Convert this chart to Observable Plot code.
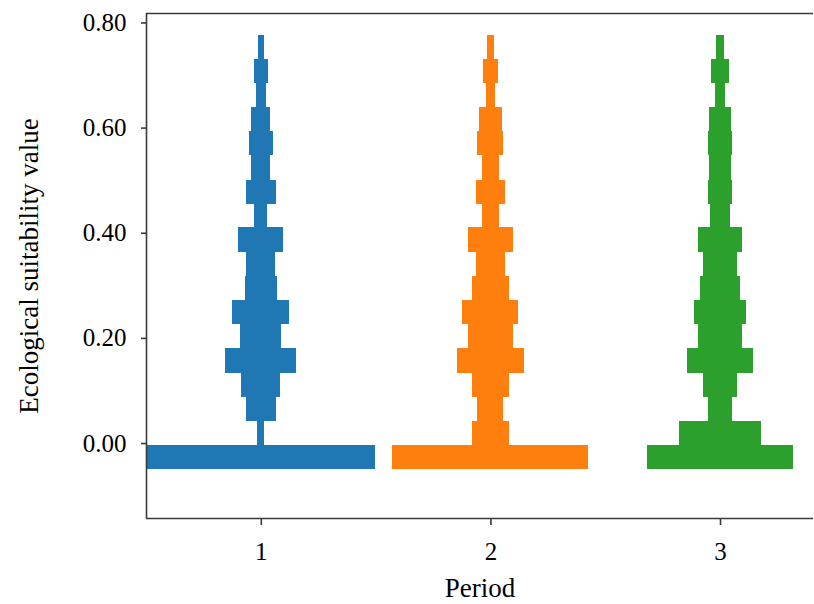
<!DOCTYPE html>
<html><head><meta charset="utf-8">
<script src="https://cdn.jsdelivr.net/npm/d3@7"></script>
<script src="https://cdn.jsdelivr.net/npm/@observablehq/plot@0.6"></script>
<style>body{margin:0;background:#fff}</style>
</head><body><div id="chart"></div>
<script>
const periods = [1, 2, 3];
const colors = ["#1f77b4", "#ff7f0e", "#2ca02c"];
const binEdges = [-0.049, -0.004, 0.042, 0.088, 0.134, 0.180, 0.226, 0.272, 0.318, 0.364, 0.410, 0.455, 0.501, 0.547, 0.593, 0.639, 0.685, 0.731, 0.777];
// relative frequency (width in period units) per bin, bottom to top
const period1 = [0.993, 0.029, 0.129, 0.169, 0.308, 0.180, 0.248, 0.142, 0.125, 0.197, 0.058, 0.131, 0.084, 0.102, 0.084, 0.044, 0.060, 0.026];
const period2 = [0.854, 0.160, 0.113, 0.160, 0.292, 0.195, 0.244, 0.160, 0.123, 0.197, 0.075, 0.125, 0.075, 0.113, 0.102, 0.041, 0.065, 0.031];
const period3 = [0.633, 0.357, 0.106, 0.147, 0.286, 0.190, 0.227, 0.177, 0.145, 0.192, 0.084, 0.108, 0.093, 0.108, 0.097, 0.047, 0.078, 0.036];
const yTicks = [0, 0.2, 0.4, 0.6, 0.8];
const xTicks = [1, 2, 3];

const series = [period1, period2, period3];
const rows = [];
series.forEach((vals, i) => vals.forEach((w, k) => rows.push({period: periods[i], lo: binEdges[k], hi: binEdges[k + 1], w})));

const font = "'Liberation Serif', 'Times New Roman', serif";
const axisColor = "#3a3a3a";

const chart = Plot.plot({
  width: 814,
  height: 604,
  marginLeft: 146,
  marginRight: 1,
  marginTop: 13,
  marginBottom: 86,
  style: {fontFamily: font, fontSize: "25px", color: "#000", background: "#fff"},
  x: {domain: [0.5, 3.405]},
  y: {domain: [-0.1426, 0.818]},
  color: {domain: periods, range: colors},
  marks: [
    Plot.rect(rows, {
      x1: d => d.period - d.w / 2,
      x2: d => d.period + d.w / 2,
      y1: "lo", y2: "hi",
      fill: "period",
      shapeRendering: "crispEdges"
    }),
    Plot.ruleX([0.5], {stroke: axisColor, strokeWidth: 1.6}),
    Plot.ruleY([-0.1426, 0.818], {stroke: axisColor, strokeWidth: 1.6}),
    Plot.axisY(yTicks, {tickFormat: d3.format(".2f"), tickSize: 5, tickPadding: 15, stroke: axisColor, strokeWidth: 1.6, fontSize: 25, fill: "#000", label: null}),
    Plot.axisX(xTicks, {tickFormat: d3.format("d"), tickSize: 7, tickPadding: 17, stroke: axisColor, strokeWidth: 1.6, fontSize: 25, fill: "#000", label: null}),
    Plot.text(["Ecological suitability value"], {frameAnchor: "left", textAnchor: "middle", lineAnchor: "middle", dx: -117, rotate: -90, fontSize: 27, fill: "#000"}),
    Plot.text(["Period"], {frameAnchor: "bottom", textAnchor: "middle", lineAnchor: "middle", dy: 70, fontSize: 27, fill: "#000"})
  ]
});
document.getElementById("chart").appendChild(chart);
</script>
</body></html>
